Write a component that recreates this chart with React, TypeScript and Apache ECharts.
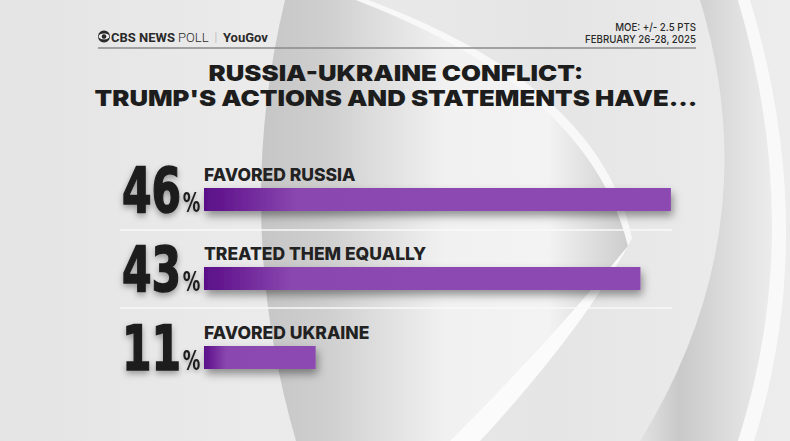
import React, { useEffect, useRef } from "react";
import * as echarts from "echarts";

const categories = ["FAVORED RUSSIA", "TREATED THEM EQUALLY", "FAVORED UKRAINE"];
const values = [46, 43, 11];
const titleLines = ["RUSSIA-UKRAINE CONFLICT:", "TRUMP'S ACTIONS AND STATEMENTS HAVE..."];
const moeLines = ["MOE: +/- 2.5 PTS", "FEBRUARY 26-28, 2025"];
const brand = { cbs: "CBS NEWS", poll: " POLL", sep: "  |  ", partner: "YouGov" };

let registered = false;
function registerShapes() {
  if (registered) return;
  registered = true;
  const g: any = echarts.graphic;
  g.registerShape(
    "bgLeftCrescent",
    g.extendPath("M285,0 Q232,220 296,441 L450,441 Q560,330 628,246 Q590,90 356,0 Z", {})
  );
  g.registerShape(
    "bgLeftStripe",
    g.extendPath("M450,441 Q560,330 628,246 Q578,335 480,441 Z", {})
  );
  g.registerShape(
    "bgTopStripe",
    g.extendPath("M628,246 Q590,90 356,0 L368,0 Q600,86 632,238 Z", {})
  );
  g.registerShape(
    "bgRightCrescent",
    g.extendPath("M640,441 Q770,230 700,0 L738,0 Q806,230 738,441 Z", {})
  );
  g.registerShape(
    "bgRightStripe",
    g.extendPath("M738,441 Q806,230 738,0 L750,0 Q820,230 754,441 Z", {})
  );
}

export default function App() {
  const ref = useRef<HTMLDivElement>(null);
  useEffect(() => {
    if (!ref.current) return;
    registerShapes();
    const chart = echarts.init(ref.current, undefined, { renderer: "svg" });
    const numFont = "'DejaVu Sans Condensed', 'DejaVu Sans', sans-serif";
    const baseGraphics: any[] = [
      { type: "rect", z: 0, silent: true, shape: { x: 0, y: 0, width: 790, height: 441 },
        style: { fill: { type: "linear", x: 0, y: 0, x2: 1, y2: 0, colorStops: [
          { offset: 0, color: "#e4e4e4" }, { offset: 0.35, color: "#ebebeb" },
          { offset: 0.7, color: "#e5e5e5" }, { offset: 1, color: "#ededed" } ] } } },
      { type: "bgLeftCrescent", z: 0, silent: true,
        style: { fill: { type: "linear", x: 0, y: 0, x2: 1, y2: 0, colorStops: [
          { offset: 0, color: "#c6c6c6" }, { offset: 0.18, color: "#cfcfcf" },
          { offset: 0.5, color: "#f1f1f1" }, { offset: 0.78, color: "#f3f3f3" },
          { offset: 1, color: "#cdcdcd" } ] } } },
      { type: "bgLeftStripe", z: 0, silent: true, style: { fill: "#fbfbfb" } },
      { type: "bgTopStripe", z: 0, silent: true, style: { fill: "#f8f8f8" } },
      { type: "bgRightCrescent", z: 0, silent: true,
        style: { fill: { type: "linear", x: 0, y: 0, x2: 1, y2: 0, colorStops: [
          { offset: 0, color: "#e2e2e2" }, { offset: 0.3, color: "#c9c9c9" },
          { offset: 0.7, color: "#dedede" }, { offset: 1, color: "#ececec" } ] } } },
      { type: "bgRightStripe", z: 0, silent: true, style: { fill: "#f9f9f9" } },
      { type: "line", z: 1, silent: true, shape: { x1: 120, y1: 230, x2: 672, y2: 230 },
        style: { stroke: "#f9f9f9", lineWidth: 1.5 } },
      { type: "line", z: 1, silent: true, shape: { x1: 120, y1: 308, x2: 672, y2: 308 },
        style: { stroke: "#f9f9f9", lineWidth: 1.5 } },
      { type: "line", z: 5, silent: true, shape: { x1: 98, y1: 48, x2: 696, y2: 48 },
        style: { stroke: "#8a8a8a", lineWidth: 1.5 } },
      { type: "circle", z: 5, shape: { cx: 104, cy: 36.5, r: 6 }, style: { fill: "#2a2a2a" } },
      { type: "ellipse", z: 6, shape: { cx: 104, cy: 36.5, rx: 5.4, ry: 2.9 }, style: { fill: "#ececec" } },
      { type: "circle", z: 7, shape: { cx: 104, cy: 36.5, r: 2.3 }, style: { fill: "#2a2a2a" } },
      { type: "text", z: 5, x: 111, y: 37,
        style: {
          text: `{b|${brand.cbs}}{l|${brand.poll}}{s|${brand.sep}}{b|${brand.partner}}`,
          verticalAlign: "middle", align: "left",
          rich: {
            b: { fontFamily: "Roboto", fontWeight: "bold", fontSize: 13, fill: "#2a2a2a" },
            l: { fontFamily: "Roboto", fontWeight: 300, fontSize: 13, fill: "#2a2a2a" },
            s: { fontFamily: "Roboto", fontWeight: 300, fontSize: 12, fill: "#b0b0b0" },
          },
        } },
      { type: "text", z: 5, x: 696, y: 33, scaleX: 0.88,
        style: { text: moeLines.join("\n"), align: "right", verticalAlign: "middle",
          lineHeight: 12, fontFamily: "Inter", fontWeight: 500, fontSize: 11, fill: "#2a2a2a" } },
      { type: "text", z: 5, x: 396, y: 73, scaleX: 1.17,
        style: { text: titleLines[0], align: "center", verticalAlign: "middle",
          fontFamily: "Inter", fontWeight: 900, fontSize: 22, fill: "#1d1d1d" } },
      { type: "text", z: 5, x: 396, y: 98, scaleX: 1.17,
        style: { text: titleLines[1], align: "center", verticalAlign: "middle",
          fontFamily: "Inter", fontWeight: 900, fontSize: 22, fill: "#1d1d1d" } },
    ];
    const option: any = {
      animation: false,
      backgroundColor: "#e8e8e8",
      grid: { left: 204, top: 160, width: 507.5, height: 237, containLabel: false },
      xAxis: { type: "value", min: 0, max: 50, show: false },
      yAxis: {
        type: "category",
        data: categories,
        inverse: true,
        axisLine: { show: false },
        axisTick: { show: false },
        splitLine: { show: false },
        axisLabel: { show: false },
      },
      graphic: baseGraphics,
      series: [
        {
          type: "bar",
          data: values,
          barWidth: 23,
          z: 3,
          itemStyle: {
            color: new echarts.graphic.LinearGradient(0, 0, 1, 0, [
              { offset: 0, color: "#5a1089" },
              { offset: 0.04, color: "#64188f" },
              { offset: 0.2, color: "#8a47b0" },
              { offset: 1, color: "#8c4ab2" },
            ]),
            shadowColor: "rgba(0,0,0,0.4)",
            shadowBlur: 8,
            shadowOffsetX: 2,
            shadowOffsetY: 5,
          },
          label: {
            show: true,
            position: [0, -5],
            align: "left",
            verticalAlign: "bottom",
            formatter: "{b}",
            fontFamily: "Inter",
            fontWeight: 800,
            fontSize: 17.5,
            lineHeight: 17,
            color: "#222222",
          },
        },
      ],
    };
    chart.setOption(option);

    // Big percentage figures, placed through the chart's own scales
    const x0 = chart.convertToPixel({ xAxisIndex: 0 }, 0) as number;
    const numGraphics = values.map((v, i) => {
      const yc = chart.convertToPixel({ yAxisIndex: 0 }, i) as number;
      return {
        type: "text",
        z: 5,
        x: x0 - 82,
        y: yc - 9.5,
        scaleX: 0.75,
        style: {
          text: `{n|${v}}{p|%}`,
          align: "left",
          verticalAlign: "middle",
          rich: {
            n: {
              fontFamily: numFont,
              fontWeight: "bold",
              fontSize: 63,
              lineHeight: 64,
              fill: "#1e1e1e",
              stroke: "#1e1e1e",
              lineWidth: 1.5,
              textShadowColor: "rgba(0,0,0,0.35)",
              textShadowBlur: 6,
              textShadowOffsetY: 3,
            },
            p: {
              fontFamily: numFont,
              fontWeight: "bold",
              fontSize: 26,
              lineHeight: 26,
              verticalAlign: "bottom",
              padding: [0, 0, 6, 2],
              fill: "#1e1e1e",
              textShadowColor: "rgba(0,0,0,0.3)",
              textShadowBlur: 4,
              textShadowOffsetY: 2,
            },
          },
        },
      };
    });
    chart.setOption({ graphic: [...baseGraphics, ...numGraphics] });
    return () => chart.dispose();
  }, []);
  return (
    <div
      ref={ref}
      style={{ position: "fixed", left: 0, top: 0, width: 790, height: 441 }}
    />
  );
}
